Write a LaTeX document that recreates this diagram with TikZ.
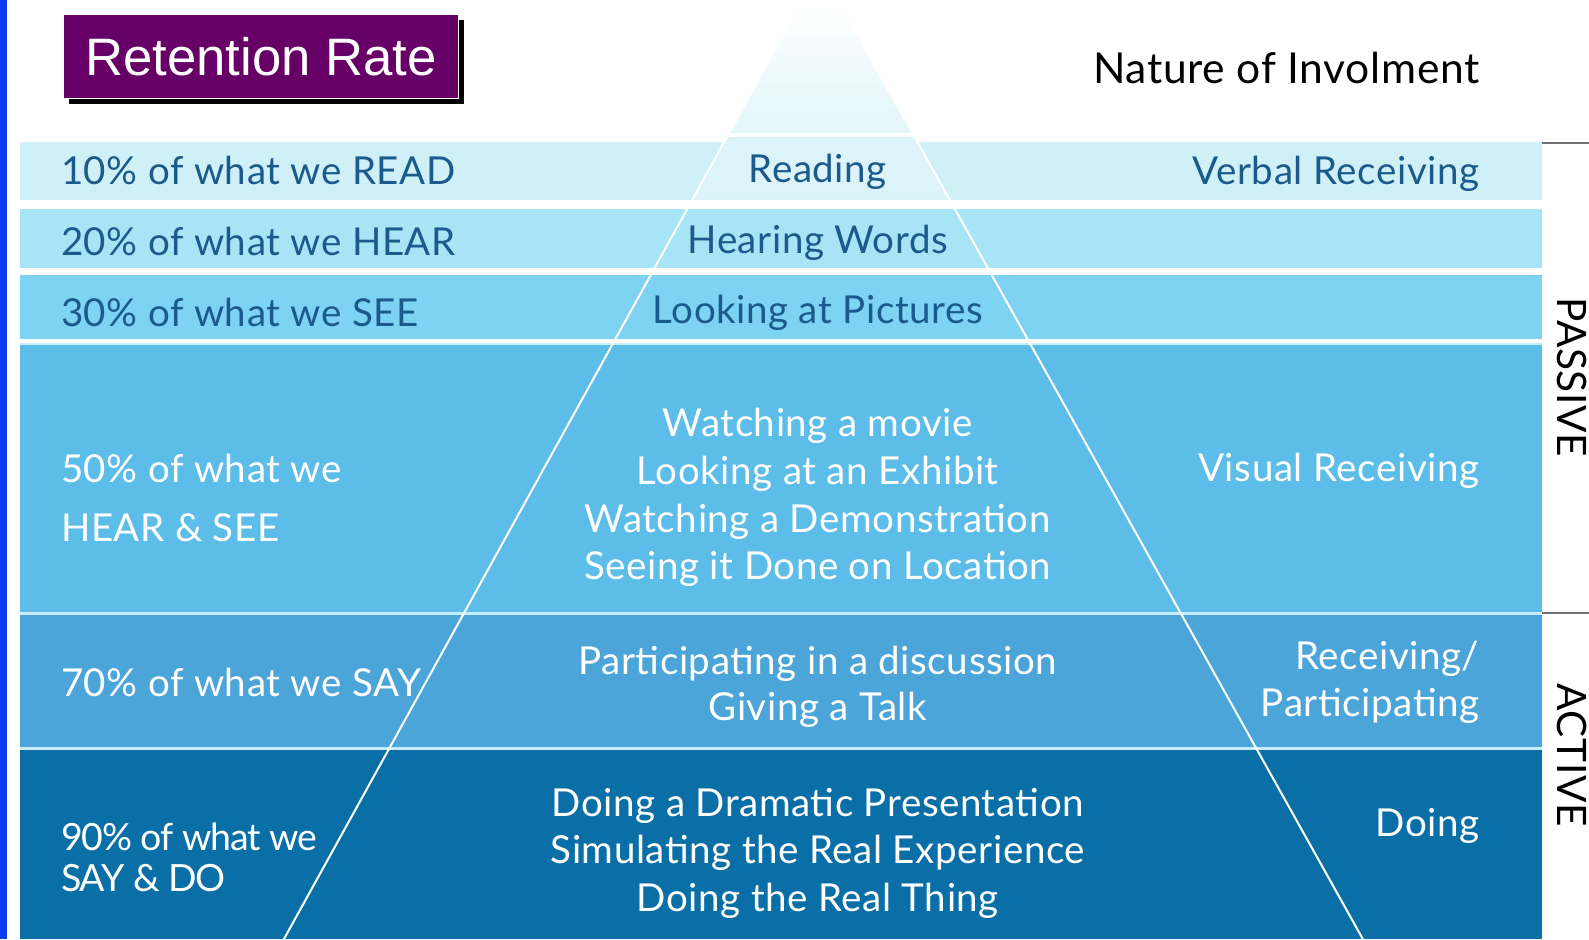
\documentclass[tikz,border=0pt]{standalone}
\usepackage{fontspec}
\setmainfont{Lato}[LetterSpace=1.5]
\newfontfamily\arialf{Liberation Sans}
\definecolor{sidebar}{HTML}{0A3CF0}
\definecolor{purplebox}{HTML}{660066}
\definecolor{bandA}{HTML}{D0F0F7}
\definecolor{bandAin}{HTML}{DCF4F9}
\definecolor{bandB}{HTML}{A7E4F6}
\definecolor{bandC}{HTML}{7DD3F1}
\definecolor{bandD}{HTML}{5CBDE9}
\definecolor{bandE}{HTML}{4CA5D9}
\definecolor{bandF}{HTML}{0B6FA7}
\definecolor{capc}{HTML}{E2F6FB}
\definecolor{sepc}{HTML}{C6EDF8}
\definecolor{darktxt}{HTML}{1A5A8C}
\definecolor{graybr}{HTML}{707070}
\tikzset{
  txt/.style={inner sep=0pt, font=\fontsize{38}{47}\selectfont},
  darklbl/.style={txt, text=darktxt},
  whitelbl/.style={txt, text=white},
  pyredge/.style={draw=white, line width=2pt},
  sidelbl/.style={inner sep=0pt, font=\fontsize{40}{40}\selectfont, text=black, rotate=-90},
}
\begin{document}
\begin{tikzpicture}[x=1pt,y=-1pt]
\useasboundingbox (0,0) rectangle (1568,927);
\fill[white] (0,0) rectangle (1568,927);
% left blue bar
\fill[sidebar] (0,0) rectangle (7,927);
% bands
\fill[bandA] (20,140) rectangle (1522,197);
\fill[bandB] (20,206) rectangle (1522,264);
\fill[bandC] (20,271) rectangle (1522,335);
\fill[sepc] (20,338) rectangle (1522,340);
\fill[bandD] (20,340) rectangle (1522,604);
\fill[sepc] (20,604) rectangle (1522,607);
\fill[bandE] (20,607) rectangle (1522,737);
\fill[sepc] (20,737) rectangle (1522,740);
\fill[bandF] (20,740) rectangle (1522,927);
% pyramid cap and band 1 interior
\shade[top color=white, bottom color=capc] (792,0) -- (827,0) -- ({827+0.5588*131},131) -- ({792-0.5523*131},131) -- cycle;
\fill[bandAin] ({792-0.5523*135},135) -- ({827+0.5588*135},135) -- ({827+0.5588*197},197) -- ({792-0.5523*197},197) -- cycle;
% pyramid edges
\draw[pyredge] (792,0) -- (280,927);
\draw[pyredge] (827,0) -- ({827+0.5588*927},927);
% right bracket
\draw[graybr, line width=1.5pt] (1522,141) -- (1568,141);
\draw[graybr, line width=1.5pt] (1522,605) -- (1568,605);
\node[sidelbl] (passive) at (1551,372) {PASSIVE};
\node[sidelbl] (active) at (1551,745) {ACTIVE};
% title box
\fill[black] (68,20) rectangle (458,103);
\node[fill=purplebox, draw=white, line width=0.8pt, minimum width=390pt, minimum height=83pt, anchor=north west, inner sep=0pt, text=white, font=\arialf\fontsize{52}{52}\selectfont] (title) at (62,14) {Retention Rate};
\node[inner sep=0pt, anchor=east, font=\fontsize{42}{42}\selectfont, text=black] (nature) at (1460,67) {Nature of Involment};
% left labels
\node[darklbl, anchor=west] (l1) at (60,168) {10\% of what we READ};
\node[darklbl, anchor=west] (l2) at (60,238) {20\% of what we HEAR};
\node[darklbl, anchor=west] (l3) at (60,308) {30\% of what we SEE};
\node[whitelbl, anchor=west, align=left, font=\fontsize{38}{58}\selectfont] (l4) at (60,491) {50\% of what we\\HEAR \& SEE};
\node[whitelbl, anchor=west] (l5) at (60,673) {70\% of what we SAY};
\node[whitelbl, anchor=west, align=left, font=\addfontfeature{LetterSpace=-3}\fontsize{37}{40}\selectfont] (l6) at (60,846) {90\% of what we\\SAY \& DO};
% centre labels
\node[darklbl] (c1) at (807,170) {Reading};
\node[darklbl] (c2) at (807,240) {Hearing Words};
\node[darklbl] (c3) at (807,309) {Looking at Pictures};
\node[whitelbl, align=center] (c4) at (807,491) {Watching a movie\\Looking at an Exhibit\\Watching a Demonstration\\Seeing it Done on Location};
\node[whitelbl, align=center, font=\fontsize{38}{45}\selectfont] (c5) at (807,678) {Participating in a discussion\\Giving a Talk};
\node[whitelbl, align=center] (c6) at (807,842) {Doing a Dramatic Presentation\\Simulating the Real Experience\\Doing the Real Thing};
% right labels
\node[darklbl, anchor=east] (r1) at (1460,172) {Verbal Receiving};
\node[whitelbl, anchor=east] (r4) at (1460,465) {Visual Receiving};
\node[whitelbl, anchor=east, align=right, font=\fontsize{38}{46}\selectfont] (r5) at (1460,673) {Receiving/\\Participating};
\node[whitelbl, anchor=east] (r6) at (1460,815) {Doing};
\end{tikzpicture}
\end{document}
